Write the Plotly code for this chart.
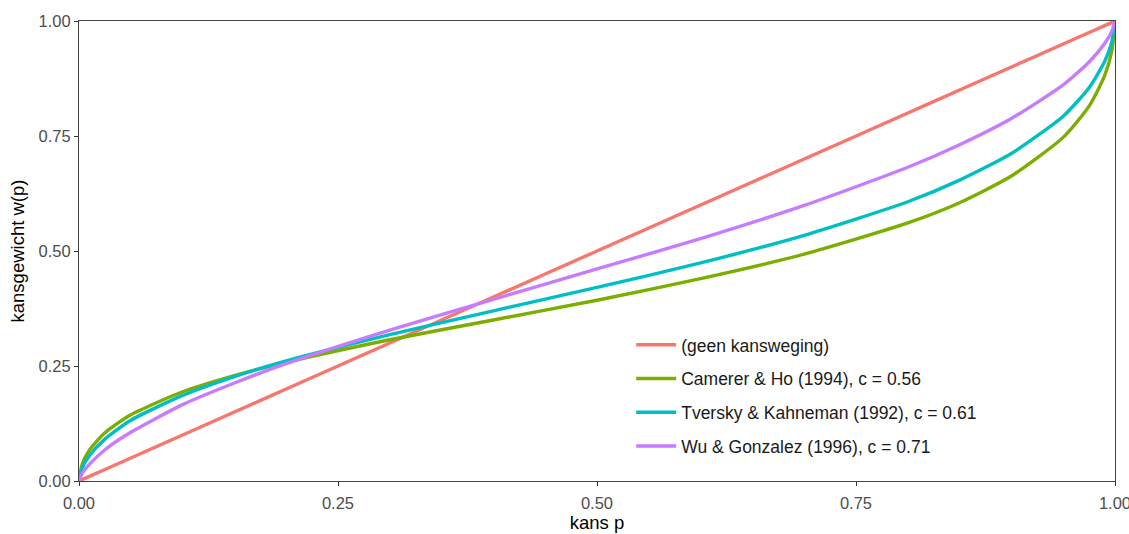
import plotly.graph_objects as go

# probability grid and weighted values per model
p = [0, 0.003, 0.01, 0.025, 0.05, 0.1, 0.15, 0.2, 0.3, 0.4, 0.5, 0.6, 0.7, 0.8, 0.85, 0.9, 0.95, 0.975, 0.99, 0.997, 1]
geen = [0, 0.003, 0.01, 0.025, 0.05, 0.1, 0.15, 0.2, 0.3, 0.4, 0.5, 0.6, 0.7, 0.8, 0.85, 0.9, 0.95, 0.975, 0.99, 0.997, 1]
camerer_ho = [0, 0.036, 0.067, 0.105, 0.144, 0.194, 0.229, 0.258, 0.307, 0.350, 0.393, 0.440, 0.493, 0.561, 0.605, 0.663, 0.747, 0.815, 0.881, 0.936, 1]
tversky_kahneman = [0, 0.028, 0.055, 0.091, 0.132, 0.186, 0.227, 0.261, 0.318, 0.370, 0.421, 0.474, 0.534, 0.607, 0.654, 0.712, 0.793, 0.855, 0.912, 0.955, 1]
wu_gonzalez = [0, 0.016, 0.036, 0.068, 0.106, 0.166, 0.213, 0.255, 0.328, 0.395, 0.461, 0.527, 0.599, 0.682, 0.731, 0.788, 0.861, 0.911, 0.951, 0.978, 1]

names = [
    "(geen kansweging)",
    "Camerer & Ho (1994), c = 0.56",
    "Tversky & Kahneman (1992), c = 0.61",
    "Wu & Gonzalez (1996), c = 0.71",
]
series = [geen, camerer_ho, tversky_kahneman, wu_gonzalez]
colors = ["#F8766D", "#7CAE00", "#00BFC4", "#C77CFF"]
tick_vals = [0, 0.25, 0.5, 0.75, 1]
tick_text = ["0.00", "0.25", "0.50", "0.75", "1.00"]

FONT = "Liberation Sans, Arial, sans-serif"

fig = go.Figure()
for i, (name, ys, col) in enumerate(zip(names, series, colors)):
    fig.add_trace(go.Scatter(
        x=p, y=ys, mode="lines", name=name, legendgroup=f"g{i}",
        line=dict(color=col, width=3.4, shape="spline", smoothing=0.6),
    ))

axis_common = dict(
    range=[0, 1], tickvals=tick_vals, ticktext=tick_text,
    showgrid=False, zeroline=False, automargin=False,
    showline=True, linecolor="#444444", linewidth=1, mirror=True,
    ticks="outside", ticklen=4, tickcolor="#333333", tickwidth=1,
    ticklabeloverflow="allow",
    tickfont=dict(family=FONT, size=16.5, color="#4D4D4D"),
    title_font=dict(family=FONT, size=18.5, color="#000000"),
)

fig.update_layout(
    width=1129, height=534,
    margin=dict(l=79, r=14, t=21, b=53),
    plot_bgcolor="white", paper_bgcolor="white",
    xaxis=dict(title=dict(text="kans p", standoff=4), ticklabelstandoff=3, **axis_common),
    yaxis=dict(title=dict(text="kansgewicht w(p)", standoff=9), **axis_common),
    legend=dict(
        x=0.533, y=0.335, xanchor="left", yanchor="top",
        bgcolor="rgba(0,0,0,0)", tracegroupgap=8, itemwidth=40,
        font=dict(family=FONT, size=17.5, color="#1A1A1A"),
    ),
    showlegend=True,
)

fig.write_html("out.html")
